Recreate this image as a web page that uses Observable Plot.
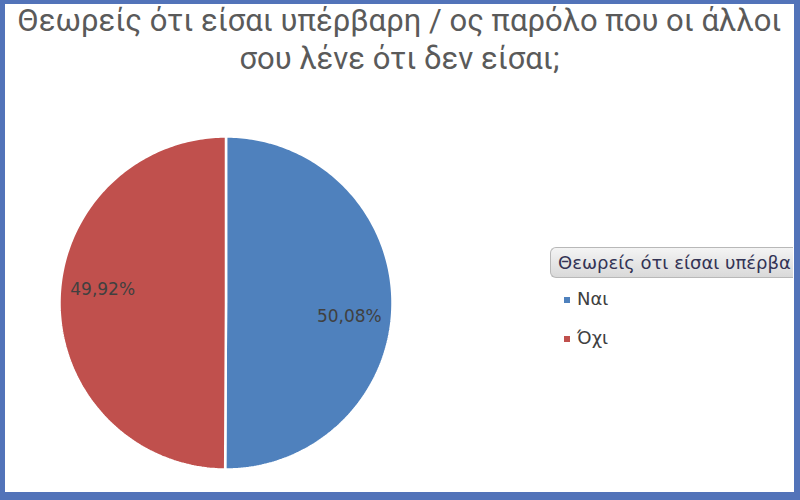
<!DOCTYPE html>
<html>
<head>
<meta charset="utf-8">
<script src="https://cdn.jsdelivr.net/npm/d3@7"></script>
<script src="https://cdn.jsdelivr.net/npm/@observablehq/plot@0.6"></script>
<style>
  html, body { margin: 0; padding: 0; background: #fff; }
  #frame {
    position: relative; width: 800px; height: 500px; box-sizing: border-box;
    border-style: solid; border-color: #5273b9;
    border-width: 4px 6px 8px 5px; overflow: hidden; background: #fff;
  }
  #title {
    height: 96px; box-sizing: border-box; padding-top: 0px; margin-top: -2px;
    text-align: center; color: #5a5a5a;
    font-family: "Liberation Sans Narrow", "Roboto", sans-serif;
    font-size: 31px; line-height: 38px;
  }
  #chart { position: absolute; left: 0; top: 96px; }
  #legend { position: absolute; left: 545px; top: 243px; width: 243px;
    font-family: "DejaVu Sans", sans-serif; color: #404040; }
  #legend .lt {
    height: 31px; box-sizing: border-box; border: 1px solid #b8b8b8; border-right: none;
    border-radius: 6px 0 0 6px;
    background: linear-gradient(#f4f4f4, #d9d9d9); font-size: 18px; line-height: 29px;
    padding-left: 7px; color: #333355; white-space: nowrap; overflow: hidden;
  }
  #legend .it { position: relative; height: 39px; font-size: 18px; line-height: 20px; padding-left: 27px; }
  #legend .sw { position: absolute; left: 14px; top: 8px; width: 6px; height: 6px; }
</style>
</head>
<body>
<div id="frame">
  <div id="title">Θεωρείς ότι είσαι υπέρβαρη / ος παρόλο που οι άλλοι<br>σου λένε ότι δεν είσαι;</div>
  <div id="chart"></div>
  <div id="legend"></div>
</div>
<script>
const legendTitle = "Θεωρείς ότι είσαι υπέρβα";
const categories = ["Ναι", "Όχι"];
const values = [50.08, 49.92];
const colors = ["#4f81bd", "#c0504d"];
const labels = ["50,08%", "49,92%"];

const total = d3.sum(values);
const slices = [];
let acc = 0;
values.forEach((v, i) => {
  const a0 = acc / total * 2 * Math.PI;
  acc += v;
  const a1 = acc / total * 2 * Math.PI;
  const pts = [{x: 0, y: 0}];
  const n = 200;
  for (let k = 0; k <= n; k++) {
    const a = a0 + (a1 - a0) * k / n;
    pts.push({x: Math.sin(a), y: Math.cos(a)});
  }
  pts.push({x: 0, y: 0});
  const mid = (a0 + a1) / 2 + 6 * Math.PI / 180;
  slices.push({pts, color: colors[i], label: labels[i], lx: 0.745 * Math.sin(mid), ly: 0.745 * Math.cos(mid)});
});

const cx = 220.5, cy = 202.5, r = 166.5;
const plot = Plot.plot({
  width: 789, height: 392,
  margin: 0,
  x: {domain: [-1, 1], range: [cx - r, cx + r], axis: null},
  y: {domain: [-1, 1], range: [cy + r, cy - r], axis: null},
  marks: [
    ...slices.map(s => Plot.line(s.pts, {x: "x", y: "y", fill: s.color, stroke: "white", strokeWidth: 2.5, strokeLinejoin: "miter", curve: "linear"})),
    Plot.text(slices, {x: "lx", y: "ly", text: "label", fill: "#404040", fontSize: 17, fontFamily: "DejaVu Sans"})
  ]
});
document.getElementById("chart").appendChild(plot);

const leg = document.getElementById("legend");
const lt = document.createElement("div");
lt.className = "lt"; lt.textContent = legendTitle; leg.appendChild(lt);
const sp = document.createElement("div"); sp.style.height = "11px"; leg.appendChild(sp);
categories.forEach((c, i) => {
  const it = document.createElement("div"); it.className = "it";
  const sw = document.createElement("span"); sw.className = "sw"; sw.style.background = colors[i];
  it.appendChild(sw); it.appendChild(document.createTextNode(c));
  leg.appendChild(it);
});
</script>
</body>
</html>
